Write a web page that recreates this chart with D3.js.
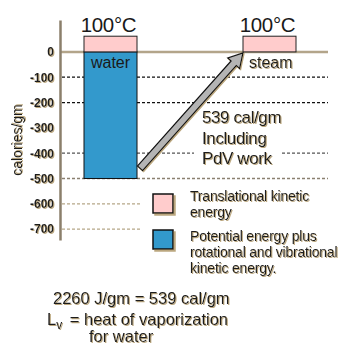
<!DOCTYPE html>
<html>
<head>
<meta charset="utf-8">
<script src="https://cdn.jsdelivr.net/npm/d3@7/dist/d3.min.js"></script>
<style>
  html, body { margin: 0; padding: 0; background: #fff; }
  svg text { font-family: "Liberation Sans", Arial, sans-serif; fill: #1a1a1a; }
</style>
</head>
<body>
<svg id="chart" width="347" height="345"></svg>
<script>
// Energy of one gram of water at 100°C, liquid vs vapour (cal/gm)
const states = ["water", "steam"];
const tempLabels = ["100°C", "100°C"];
const translational = [62, 62];      // translational kinetic energy, above zero
const potential = [-500, 0];         // potential + rotational/vibrational energy
const yTicks = [0, -100, -200, -300, -400, -500, -600, -700];
const tickLabels = ["0", "-100", "-200", "-300", "-400", "-500", "-600", "-700"];
const arrowFrom = -460;              // level where the latent-heat arrow starts
const arrowTo = 0;                   // level where it ends (steam)
const arrowLabel = ["539 cal/gm", "Including", "PdV work"];
const legendLabels = [
  ["Translational kinetic", "energy"],
  ["Potential energy plus", "rotational and vibrational", "kinetic energy."]
];
const legendColors = ["#ffcccc", "#3399cc"];
const noteLines = ["2260 J/gm = 539 cal/gm", "= heat of vaporization", "for water"];

const svg = d3.select("#chart");

// offset tan shadow used on the lettering and legend swatches
const defs = svg.append("defs");
function shadowFilter(id, d) {
  const f = defs.append("filter").attr("id", id)
    .attr("x", "-20%").attr("y", "-20%").attr("width", "150%").attr("height", "150%");
  f.append("feOffset").attr("in", "SourceAlpha").attr("dx", d).attr("dy", d).attr("result", "off");
  f.append("feFlood").attr("flood-color", "#bba77f").attr("result", "col");
  f.append("feComposite").attr("in", "col").attr("in2", "off").attr("operator", "in").attr("result", "shadow");
  const m = f.append("feMerge");
  m.append("feMergeNode").attr("in", "shadow");
  m.append("feMergeNode").attr("in", "SourceGraphic");
}
shadowFilter("sh", 1);
shadowFilter("sh2", 2);

const axisX = 60, plotRight = 328;
const y = d3.scaleLinear().domain([-743, 126]).range([240, 20]);
const x = d3.scalePoint().domain(states).range([110.5, 269.5]);
const barW = 53;

// gridlines (no line at -300)
const gridStyle = {
  "-100": { c: "#111", x2: plotRight },
  "-200": { c: "#111", x2: plotRight },
  "-400": { c: "#555", x2: plotRight },
  "-500": { c: "#8a8070", x2: plotRight },
  "-600": { c: "#b5a788", x2: 140 },
  "-700": { c: "#b5a788", x2: 140 }
};
svg.append("g").selectAll("line")
  .data(yTicks.filter(v => gridStyle[v]))
  .join("line")
  .attr("x1", axisX + 2).attr("x2", v => gridStyle[v].x2)
  .attr("y1", v => y(v)).attr("y2", v => y(v))
  .attr("stroke", v => gridStyle[v].c)
  .attr("stroke-width", 1.3)
  .attr("stroke-dasharray", "3,2");

// zero line
svg.append("line")
  .attr("x1", axisX).attr("x2", plotRight)
  .attr("y1", y(0)).attr("y2", y(0))
  .attr("stroke", "#b3a58a").attr("stroke-width", 2.5);

// y axis
const yAxis = d3.axisLeft(y).tickValues(yTicks)
  .tickFormat((d, i) => tickLabels[i]).tickSize(0).tickPadding(6);
const ag = svg.append("g").attr("transform", `translate(${axisX},0)`).call(yAxis);
ag.select(".domain").attr("stroke", "#8b7f6b").attr("stroke-width", 2.5);
ag.selectAll("text")
  .attr("font-size", 12).attr("font-weight", "bold")
  .attr("font-family", "Liberation Sans, Arial, sans-serif")
  .attr("fill", "#2a2a2a").attr("filter", "url(#sh)");

svg.append("text")
  .attr("transform", `translate(22,140) rotate(-90)`)
  .attr("text-anchor", "middle").attr("font-size", 14)
  .attr("filter", "url(#sh)")
  .text("calories/gm");

// potential energy bars (below zero)
svg.append("g").selectAll("rect")
  .data(states.map((s, i) => ({ s, v: potential[i] })).filter(d => d.v < 0))
  .join("rect")
  .attr("x", d => x(d.s) - barW / 2).attr("width", barW)
  .attr("y", y(0)).attr("height", d => y(d.v) - y(0))
  .attr("fill", legendColors[1]).attr("stroke", "#111").attr("stroke-width", 1);

// translational kinetic energy boxes (above zero)
svg.append("g").selectAll("rect")
  .data(states.map((s, i) => ({ s, v: translational[i] })))
  .join("rect")
  .attr("x", d => x(d.s) - barW / 2).attr("width", barW)
  .attr("y", d => y(d.v)).attr("height", d => y(0) - y(d.v))
  .attr("fill", legendColors[0]).attr("stroke", "#222").attr("stroke-width", 1);

// temperature labels
svg.append("g").selectAll("text")
  .data(states.map((s, i) => ({ s, t: tempLabels[i], v: translational[i] })))
  .join("text")
  .attr("x", d => x(d.s) - 2).attr("y", d => y(d.v) - 4)
  .attr("text-anchor", "middle").attr("font-size", 20.5)
  .attr("letter-spacing", -0.3)
  .text(d => d.t);

// state names
svg.append("text").attr("x", x("water")).attr("y", 68)
  .attr("text-anchor", "middle").attr("font-size", 16).text(states[0]);
svg.append("text").attr("x", x("steam") - barW / 2 + 6).attr("y", 68)
  .attr("font-size", 16).attr("filter", "url(#sh)").text(states[1]);

// latent heat arrow
const ax0 = x("water") + barW / 2 + 3, ay0 = y(arrowFrom);
const ax1 = x("steam") - barW / 2, ay1 = y(arrowTo) + 1;
const ang = Math.atan2(ay1 - ay0, ax1 - ax0);
const len = Math.hypot(ax1 - ax0, ay1 - ay0);
const sw = 3.5, hw = 8, hl = 14;
const pts = [[0, -sw], [len - hl, -sw], [len - hl, -hw], [len, 0], [len - hl, hw], [len - hl, sw], [0, sw]]
  .map(([u, v]) => [ax0 + u * Math.cos(ang) - v * Math.sin(ang), ay0 + u * Math.sin(ang) + v * Math.cos(ang)]);
svg.append("polygon")
  .attr("points", pts.map(p => p.join(",")).join(" "))
  .attr("fill", "#b4b4b4").attr("stroke", "#111").attr("stroke-width", 1.2)
  .attr("filter", "url(#sh)");

// arrow caption; a white backing breaks the -400 gridline behind it
const capBack = svg.append("g");
const cap = svg.append("g").attr("filter", "url(#sh)");
arrowLabel.forEach((t, i) => {
  const tx = cap.append("text").attr("x", 202).attr("y", 123 + i * 20.5)
    .attr("font-size", 17).attr("letter-spacing", -0.4).text(t);
  if (i === 2) {
    const bb = tx.node().getBBox();
    capBack.append("rect")
      .attr("x", bb.x - 8).attr("y", bb.y + 2).attr("width", bb.width + 16).attr("height", bb.height - 4)
      .attr("fill", "#fff");
  }
});

// legend
const lg = svg.append("g");
const swY = [194, 230];
legendColors.forEach((c, i) => {
  lg.append("rect").attr("x", 153).attr("y", swY[i]).attr("width", 20).attr("height", 19)
    .attr("fill", c).attr("stroke", "#111").attr("stroke-width", 1.5).attr("filter", "url(#sh2)");
});
const legY0 = [201, 241];
legendLabels.forEach((lines, i) => {
  lines.forEach((t, j) => {
    lg.append("text").attr("x", 190).attr("y", legY0[i] + j * 16)
      .attr("font-size", 14).attr("letter-spacing", -0.2)
      .attr("filter", "url(#sh)").text(t);
  });
});

// note on the latent heat
const note = svg.append("g").attr("filter", "url(#sh)");
note.append("text").attr("x", 53).attr("y", 304).attr("font-size", 16.5).text(noteLines[0]);
const l2 = note.append("text").attr("x", 47).attr("y", 325).attr("font-size", 16.5);
l2.append("tspan").text("L");
l2.append("tspan").attr("font-size", 12).attr("dy", 4).text("v");
l2.append("tspan").attr("dy", -4).attr("dx", 3).text(" " + noteLines[1]);
note.append("text").attr("x", 89).attr("y", 342).attr("font-size", 16.5).text(noteLines[2]);
</script>
</body>
</html>
